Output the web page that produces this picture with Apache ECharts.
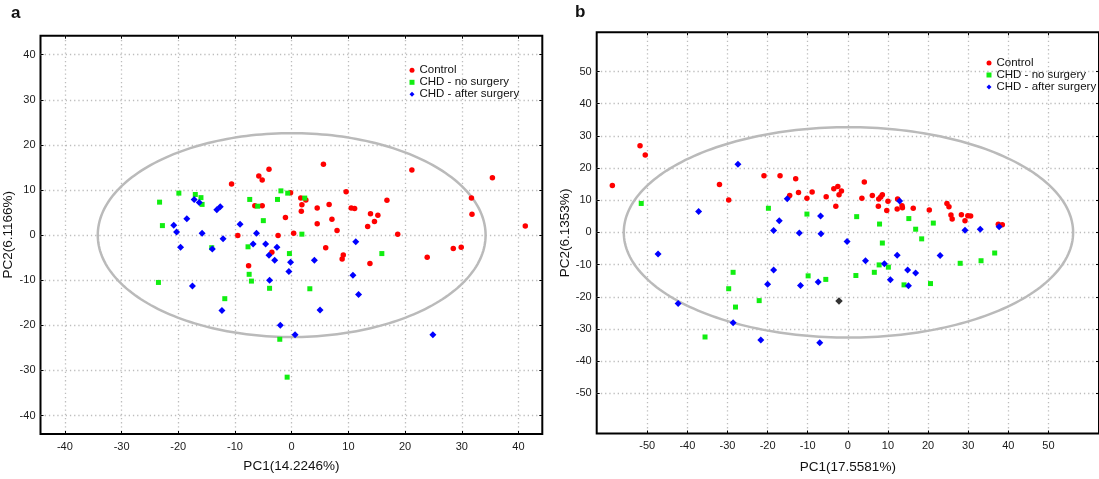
<!DOCTYPE html>
<html><head><meta charset="utf-8">
<script src="https://cdn.jsdelivr.net/npm/echarts@6/dist/echarts.min.js"></script>
<style>html,body{margin:0;padding:0;background:#fff}#c{width:1099px;height:479px}</style>
</head><body><div id="c"></div>
<script>
const seriesNames = ['Control', 'CHD - no surgery', 'CHD - after surgery'];

// Panel a: PC1(14.2246%) vs PC2(6.1166%)
const aControl = [[-4.0,14.6],[-5.8,13.1],[-5.2,12.2],[-10.6,11.3],[-0.2,9.4],[-6.5,6.5],[-5.2,6.5],[-1.1,3.9],[0.35,0.4],[-2.4,-0.1],[-9.5,-0.1],[-3.5,-3.8],[-7.6,-6.8],[5.6,15.7],[21.2,14.4],[35.4,12.7],[9.6,9.6],[1.6,8.2],[2.5,7.8],[1.8,6.7],[1.7,5.3],[4.5,6.0],[6.6,6.8],[16.8,7.7],[10.5,6.0],[11.1,5.9],[31.7,8.2],[31.8,4.6],[4.5,2.5],[7.1,3.5],[13.9,4.7],[15.2,4.4],[14.6,3.0],[13.4,1.9],[8.0,1.0],[18.7,0.2],[41.2,2.0],[6.0,-2.8],[9.1,-4.4],[8.9,-5.3],[13.8,-6.3],[23.9,-4.9],[28.5,-3.0],[29.9,-2.7]];
const aNoSurgery = [[-19.9,9.3],[-17.0,9.0],[-16.0,8.3],[-15.8,6.8],[-23.3,7.3],[-1.9,9.8],[-0.7,9.3],[-7.4,7.9],[-2.5,7.9],[-6.0,6.4],[-5.0,3.2],[-22.8,2.1],[-14.1,-2.8],[-7.7,-2.6],[-0.4,-4.1],[-7.5,-8.7],[-7.1,-10.2],[-3.9,-11.8],[-23.5,-10.5],[-11.8,-14.1],[-2.1,-23.1],[2.3,8.2],[1.8,0.2],[15.9,-4.1],[3.2,-11.9],[-0.8,-31.5]];
const aAfterSurgery = [[-17.2,7.9],[-16.3,7.2],[-13.2,5.6],[-12.6,6.3],[-18.5,3.6],[-20.8,2.2],[-20.3,0.7],[-15.8,0.4],[-19.6,-2.7],[-14.0,-3.1],[-12.1,-0.8],[-9.1,2.4],[-6.2,0.4],[-6.8,-2.0],[-4.6,-2.0],[-2.6,-2.7],[-4.0,-4.5],[-3.0,-5.6],[-0.2,-6.0],[-0.5,-8.1],[-3.9,-10.0],[-17.5,-11.3],[-12.3,-16.7],[-2.0,-20.0],[0.6,-22.1],[11.3,-1.5],[4.0,-5.6],[10.8,-8.9],[11.8,-13.2],[5.0,-16.6],[24.9,-22.1]];

// Panel b: PC1(17.5581%) vs PC2(6.1353%)
const bControl = [[-58.7,14.6],[-51.8,26.9],[-50.5,24.1],[-32.0,14.9],[-29.7,10.1],[-20.9,17.6],[-16.9,17.6],[-13.0,16.7],[-14.5,11.5],[-12.3,12.4],[-10.2,10.6],[-8.9,12.6],[-5.4,11.1],[-3.5,13.6],[-2.5,14.3],[-1.6,12.9],[-2.2,11.7],[-3.0,8.1],[4.1,15.7],[3.5,10.6],[6.1,11.5],[7.7,10.4],[8.2,11.0],[8.6,11.7],[10.0,9.7],[7.6,8.1],[9.7,6.8],[12.4,10.4],[13.5,8.3],[13.6,7.7],[12.3,7.3],[16.3,7.5],[20.3,7.0],[24.7,9.0],[25.2,8.0],[25.7,5.4],[26.0,4.2],[28.3,5.5],[29.9,5.2],[30.6,5.1],[29.2,3.6],[37.5,2.5],[38.5,2.4]];
const bNoSurgery = [[-51.5,9.0],[-19.8,7.5],[-10.2,5.7],[-28.6,-12.4],[-29.7,-17.5],[-28.0,-23.2],[-22.1,-21.2],[-9.9,-13.5],[-5.5,-14.6],[-35.6,-32.5],[2.2,4.9],[7.9,2.6],[15.2,4.3],[21.3,2.9],[16.9,1.0],[18.4,-2.0],[8.6,-3.3],[2.0,-13.4],[6.6,-12.4],[7.8,-10.1],[10.1,-10.8],[14.0,-16.3],[20.6,-15.9],[28.0,-9.6],[33.2,-8.8],[36.6,-6.4]];
const bAfterSurgery = [[-27.4,21.2],[-15.1,10.5],[-37.2,6.5],[-17.1,3.6],[-18.5,0.6],[-12.1,-0.2],[-6.8,5.1],[-6.7,-0.4],[-47.3,-6.7],[-18.5,-11.7],[-20.0,-16.1],[-11.8,-16.5],[-7.4,-15.4],[-42.3,-22.1],[-28.6,-28.1],[-21.7,-33.4],[-7.0,-34.3],[-0.2,-2.8],[12.9,9.8],[4.4,-8.8],[9.1,-9.7],[12.3,-7.1],[10.6,-14.7],[14.9,-11.7],[16.9,-12.6],[15.1,-16.6],[23.0,-7.2],[29.2,0.7],[33.0,1.0],[37.7,1.8]];
const bMarked = [[-2.2,-21.3]];

// Confidence ellipses: [centerX, centerY, radiusX, radiusY]
const aEllipse = [[0, 0, 34.2, 22.6]];
const bEllipse = [[0.15, 0, 56.0, 32.7]];

// Tick labels
const aTicks = [-40, -30, -20, -10, 0, 10, 20, 30, 40];
const bTicks = [-50, -40, -30, -20, -10, 0, 10, 20, 30, 40, 50];

const FONT = 'Liberation Sans, Arial, sans-serif';
const COLORS = ['#ff0000', '#11ee11', '#0000ff'];
const SYMBOLS = ['circle', 'rect', 'diamond'];
const SIZES = [5.5, 5, 7];

function valueAxis(gridIndex, min, max, ticks, position, main, name, nameGap) {
  return {
    type: 'value', gridIndex, min, max, position,
    name: main ? name : '', nameLocation: 'middle', nameGap,
    nameTextStyle: {fontFamily: FONT, fontSize: 13.5, color: '#111'},
    axisLine: {show: false, onZero: false},
    axisTick: {show: true, inside: true, length: 3, customValues: ticks, lineStyle: {color: '#000', width: 1}},
    axisLabel: {show: main, customValues: ticks, fontFamily: FONT, fontSize: 11, color: '#1a1a1a', margin: position === 'bottom' ? 7 : 5},
    splitLine: {show: main, lineStyle: {color: '#bdbdbd', width: 1.3, type: [1.3, 2.9]}}
  };
}

function ellipseItem(params, api) {
  const cx = api.value(0), cy = api.value(1), rx = api.value(2), ry = api.value(3);
  const pts = [];
  for (let i = 0; i <= 240; i++) {
    const t = i / 240 * 2 * Math.PI;
    pts.push(api.coord([cx + rx * Math.cos(t), cy + ry * Math.sin(t)]));
  }
  return {type: 'polygon', shape: {points: pts}, style: {fill: 'none', stroke: '#bababa', lineWidth: 2.5}};
}

function scatter(name, idx, data, xi, yi) {
  return {
    type: 'scatter', name, data, xAxisIndex: xi, yAxisIndex: yi,
    symbol: SYMBOLS[idx], symbolSize: SIZES[idx],
    itemStyle: {color: COLORS[idx], opacity: 1}, z: 3, silent: true
  };
}

const option = {
  animation: false,
  backgroundColor: '#fff',
  title: [
    {text: 'a', left: 11, top: 5, padding: 0, textStyle: {fontFamily: FONT, fontSize: 17, fontWeight: 'bold', color: '#111'}},
    {text: 'b', left: 575, top: 4, padding: 0, textStyle: {fontFamily: FONT, fontSize: 17, fontWeight: 'bold', color: '#111'}}
  ],
  grid: [
    {left: 40.5, top: 35.7, right: 1099 - 542.3, bottom: 479 - 434, show: true, borderColor: '#000', borderWidth: 2, backgroundColor: 'transparent'},
    {left: 596.7, top: 32.3, right: -3, bottom: 479 - 434.8, show: true, borderColor: '#000', borderWidth: 2, backgroundColor: 'transparent'}
  ],
  xAxis: [
    valueAxis(0, -44.3, 44.2, aTicks, 'bottom', true, 'PC1(14.2246%)', 25),
    valueAxis(0, -44.3, 44.2, aTicks, 'top', false, '', 0),
    valueAxis(1, -62.6, 62.6, bTicks, 'bottom', true, 'PC1(17.5581%)', 26.5),
    valueAxis(1, -62.6, 62.6, bTicks, 'top', false, '', 0)
  ],
  yAxis: [
    valueAxis(0, -44.1, 44.2, aTicks, 'left', true, 'PC2(6.1166%)', 18),
    valueAxis(0, -44.1, 44.2, aTicks, 'right', false, '', 0),
    valueAxis(1, -62.5, 62.2, bTicks, 'left', true, 'PC2(6.1353%)', 22.5),
    valueAxis(1, -62.5, 62.2, bTicks, 'right', false, '', 0)
  ],
  legend: [
    {left: 409.5, top: 64.3, orient: 'vertical', padding: 0, itemGap: 0, itemWidth: 5, itemHeight: 5,
     data: seriesNames, selectedMode: false,
     textStyle: {fontFamily: FONT, fontSize: 11.5, lineHeight: 9.4, color: '#111'}},
    {left: 986.5, top: 57, orient: 'vertical', padding: 0, itemGap: 0, itemWidth: 5, itemHeight: 5,
     data: seriesNames, selectedMode: false,
     textStyle: {fontFamily: FONT, fontSize: 11.5, lineHeight: 12, color: '#111'}}
  ],
  series: [
    {type: 'custom', name: 'ellipseA', data: aEllipse, xAxisIndex: 0, yAxisIndex: 0, renderItem: ellipseItem, z: 2, silent: true, clip: true,
     dimensions: ['cx', 'cy', 'rx', 'ry'], encode: {x: 0, y: 1}},
    {type: 'custom', name: 'ellipseB', data: bEllipse, xAxisIndex: 2, yAxisIndex: 2, renderItem: ellipseItem, z: 2, silent: true, clip: true,
     dimensions: ['cx', 'cy', 'rx', 'ry'], encode: {x: 0, y: 1}},
    scatter(seriesNames[0], 0, aControl, 0, 0),
    scatter(seriesNames[1], 1, aNoSurgery, 0, 0),
    scatter(seriesNames[2], 2, aAfterSurgery, 0, 0),
    scatter(seriesNames[0], 0, bControl, 2, 2),
    scatter(seriesNames[1], 1, bNoSurgery, 2, 2),
    scatter(seriesNames[2], 2, bAfterSurgery, 2, 2),
    {type: 'scatter', name: 'marked', data: bMarked, xAxisIndex: 2, yAxisIndex: 2, symbol: 'diamond', symbolSize: 7.5,
     itemStyle: {color: '#000'}, z: 4, silent: true}
  ]
};

const chart = echarts.init(document.getElementById('c'), null, {renderer: 'canvas'});
chart.setOption(option);
</script>
</body></html>
